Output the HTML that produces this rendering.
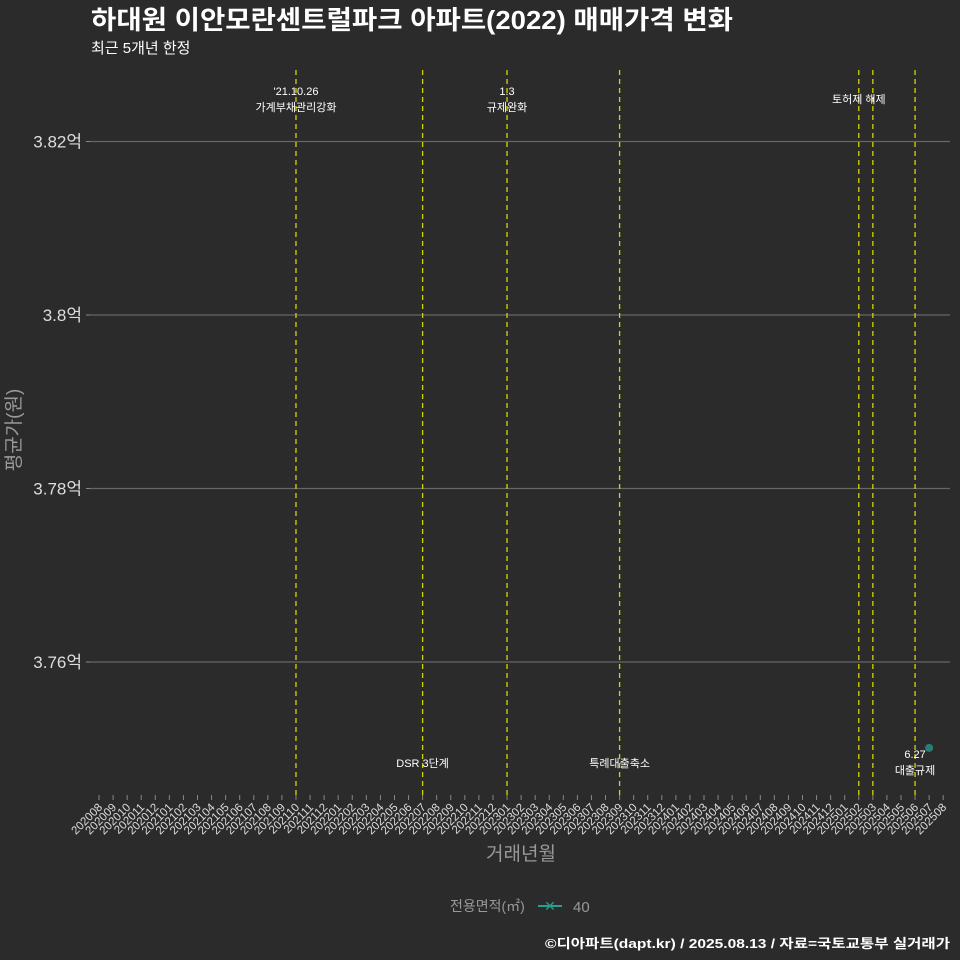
<!DOCTYPE html>
<html><head><meta charset="utf-8"><style>
body{margin:0;background:#2b2b2b;}
svg{display:block;font-family:"Liberation Sans","Noto Sans CJK KR",sans-serif;}
</style></head><body>
<svg id="c" width="960" height="960" viewBox="0 0 960 960">
<rect width="960" height="960" fill="#2b2b2b"/>
<text x="91" y="29" fill="#fff" font-size="26" font-weight="bold" textLength="642" lengthAdjust="spacingAndGlyphs">하대원 이안모란센트럴파크 아파트(2022) 매매가격 변화</text>
<text x="91" y="53" fill="#fff" font-size="15">최근 5개년 한정</text>
<g id="grid"></g><g id="vl"></g><g id="xa"></g><g id="pts"></g>
<text x="20" y="430" fill="#999" font-size="19" transform="rotate(-90 20 430)" text-anchor="middle">평균가(원)</text>
<text x="521" y="860" fill="#999" font-size="19" text-anchor="middle">거래년월</text>
<g>
<text x="450" y="911" fill="#999" font-size="14">전용면적(㎡)</text>
<g>
<line x1="538" y1="906" x2="562" y2="906" stroke="#2a9d8f" stroke-width="2"/>
<text x="550" y="911" fill="#2a9d8f" font-size="14" text-anchor="middle">✕</text>
<text x="573" y="912" fill="#999" font-size="15">40</text></g>
</g>
<text x="950" y="948" fill="#fff" font-size="13" font-weight="bold" text-anchor="end" textLength="405" lengthAdjust="spacingAndGlyphs">©디아파트(dapt.kr) / 2025.08.13 / 자료=국토교통부 실거래가</text>
</svg>
<script>
const months=[];for(let y=2020,m=8;y*100+m<=202508;){months.push(''+y+String(m).padStart(2,'0'));m++;if(m>12){m=1;y++;}}
const yTicks=[3.76,3.78,3.80,3.82];
const yTickLabels=['3.76억','3.78억','3.8억','3.82억'];
const ptMonths=['202507'];
const ptValues=[3.7501];
const evMonths=['202110','202207','202301','202309','202502','202503','202506'];
const evLabels=[["'21.10.26","가계부채관리강화"],["DSR 3단계"],["1.3","규제완화"],["특례대출축소"],[""],["토허제 해제"],["6.27","대출규제"]];
const evTop=[true,false,true,false,true,true,false];
const NS='http://www.w3.org/2000/svg';
const X=i=>99+i*14.07, Y=v=>662-(v-3.76)*8675;
function el(t,a,p){const e=document.createElementNS(NS,t);for(const k in a)e.setAttribute(k,a[k]);document.getElementById(p).appendChild(e);return e;}
yTicks.forEach((v,i)=>{
 let g=el('line',{x1:90,x2:950,y1:Y(v),y2:Y(v),stroke:'#666','stroke-width':1.2},'grid');
 
 
 let tk=el('line',{x1:86,x2:90,y1:Y(v),y2:Y(v),stroke:'#888'},'grid');
 
 
 let t=el('text',{x:82,y:Y(v)+6,fill:'#ddd','font-size':17,'text-anchor':'end'},'grid');t.textContent=yTickLabels[i];
 
 
});
months.forEach((m,i)=>{
 let tk=el('line',{x1:X(i),x2:X(i),y1:795,y2:800,stroke:'#888'},'xa');
 
 
 let t=el('text',{x:X(i)+4,y:808,fill:'#ddd','font-size':11.5,'text-anchor':'end',transform:`rotate(-45 ${X(i)+4} 808)`},'xa');t.textContent=m;
 
 
});
evMonths.forEach((m,i)=>{
 const x=X(months.indexOf(m));
 let l=el('line',{x1:x,x2:x,y1:70,y2:795,stroke:'#d4d400','stroke-width':1.3,'stroke-dasharray':'5,4'},'vl');
 
 
 const lines=evLabels[i];
 const y0=evTop[i]?(lines.length>1?95:103):(lines.length>1?758:767);
 lines.forEach((s,j)=>{if(!s)return;
  let t=el('text',{x:x-(i==5?14:0),y:y0+j*16,fill:'#fff','font-size':11,'text-anchor':'middle'},'vl');t.textContent=s;
  
  
 });
});
ptMonths.forEach((m,i)=>{
 let c=el('circle',{cx:X(months.indexOf(m)),cy:Y(ptValues[i]),r:4,fill:'#2a7d74'},'pts');
 
 
});
</script>
</body></html>
